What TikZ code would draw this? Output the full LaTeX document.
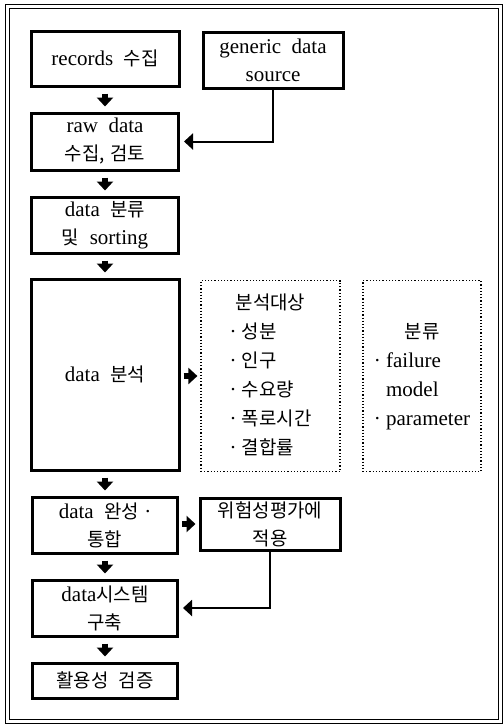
\documentclass[tikz,border=0pt]{standalone}
\usepackage{fontspec}
\setmainfont{Liberation Serif}
\newfontfamily\kr[Scale=0.9]{Noto Sans CJK KR}
\usetikzlibrary{arrows.meta,positioning}

\begin{document}
\begin{tikzpicture}[x=0.5pt,y=-0.5pt,
    box/.style={draw,line width=1.5pt,align=center,inner sep=0pt,font=\fontsize{10.5}{14}\selectfont},
    dotbox/.style={draw,densely dotted,line width=0.6pt,inner sep=0pt,font=\fontsize{10.5}{14.5}\selectfont},
    down/.style={line width=2.6pt,-{Triangle[width=8pt,length=4.5pt]},shorten <=3pt,shorten >=2.5pt},
    side/.style={line width=2.6pt,-{Triangle[width=8pt,length=4.5pt]},shorten <=1.5pt,shorten >=1.5pt},
    feed/.style={line width=1pt,-{Triangle[width=8pt,length=4.5pt]},shorten >=2pt}]
%      \draw[help lines] (0,0) grid[step=50] (503,725);
      \useasboundingbox (0,0) rectangle (503,725);

      \draw[double,double distance=1.2pt,line width=0.5pt] (7.5,6.5) rectangle (500.5,721.5);

      \node[box,minimum width=74pt,minimum height=27.5pt] (records) at (105,58.5) {records\ \ {\kr 수집}};
      \node[box,minimum width=70pt,minimum height=28pt] (generic) at (273,60) {generic\ \ data\\source};
      \node[box,minimum width=73.5pt,minimum height=28.5pt] (raw) at (105,141.5) {raw\ \ data\\{\kr 수집,}\ {\kr 검토}};
      \node[box,minimum width=73.5pt,minimum height=28pt] (sorting) at (105,225) {data\ \ {\kr 분류}\\{\kr 및}\ \ sorting};
      \node[box,minimum width=74pt,minimum height=95.5pt] (analysis) at (105,374.5) {data\ \ {\kr 분석}};

      \node[dotbox,minimum width=69.5pt,minimum height=95.5pt] (targets) at (270.5,376) {%
        \begin{tabular}{@{}l@{}}
          \multicolumn{1}{@{}c@{}}{\kr 분석대상}\\
          ·\ {\kr 성분}\\
          ·\ {\kr 인구}\\
          ·\ {\kr 수요량}\\
          ·\ {\kr 폭로시간}\\
          ·\ {\kr 결합률}
        \end{tabular}};
      \node[dotbox,minimum width=59pt,minimum height=95.5pt] (classes) at (422,376) {%
        \begin{tabular}{@{}l@{}}
          \multicolumn{1}{@{}c@{}}{\kr 분류}\\
          ·\ failure\\
          \phantom{·\ }model\\
          ·\ parameter
        \end{tabular}};

      \node[box,minimum width=72.5pt,minimum height=28pt] (merge) at (105,525) {data\ \ {\kr 완성} ·\\{\kr 통합}};
      \node[box,minimum width=70pt,minimum height=26pt] (apply) at (270,524) {{\kr 위험성평가에}\\{\kr 적용}};
      \node[box,minimum width=72.5pt,minimum height=28pt] (system) at (105,608) {data{\kr 시스템}\\{\kr 구축}};
      \node[box,minimum width=72.5pt,minimum height=17.5pt] (verify) at (105,680.5) {{\kr 활용성}\ \ {\kr 검증}};

      \draw[down] (records) -- (raw);
      \draw[down] (raw) -- (sorting);
      \draw[down] (sorting) -- (analysis);
      \draw[down] (analysis) -- (merge);
      \draw[down] (merge) -- (system);
      \draw[down] (system) -- (verify);

      \draw[feed] (generic.south) |- (raw.east);
      \draw[side] (analysis.east |- targets.west) -- (targets.west);
      \draw[side] (merge.east |- apply.west) -- (apply.west);
      \draw[feed] (apply.south) |- (system.east);
    \end{tikzpicture}
\end{document}
